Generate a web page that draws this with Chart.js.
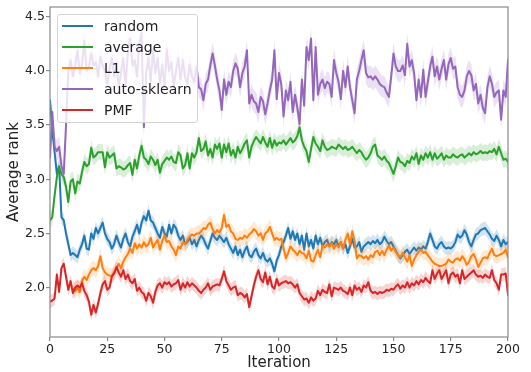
<!DOCTYPE html>
<html>
<head>
<meta charset="utf-8">
<script src="https://cdn.jsdelivr.net/npm/chart.js@4.4.0/dist/chart.umd.min.js"></script>
<style>
html,body{margin:0;padding:0;background:#fff;}
#wrap{position:relative;width:531px;height:372px;}
#legend{position:absolute;left:57px;top:14px;width:141px;height:109px;box-sizing:border-box;border:1px solid #d4d4d4;border-radius:3px;background:rgba(255,255,255,0.8);font-family:"DejaVu Sans";font-size:14px;color:#222;}
.row{position:absolute;left:0;width:139px;height:20px;}
.sw{position:absolute;left:4px;top:9px;width:31px;height:2px;}
.lbl{position:absolute;left:46px;top:0;white-space:nowrap;line-height:20px;}
</style>
</head>
<body>
<div id="wrap">
<canvas id="c" width="531" height="372"></canvas>
<div id="legend"></div>
</div>
<script>
const iterations = Array.from({length: 201}, (_, i) => i);
const xTicks = [0, 25, 50, 75, 100, 125, 150, 175, 200];
const yTicks = [2.0, 2.5, 3.0, 3.5, 4.0, 4.5];
const seriesNames = ['random', 'average', 'L1', 'auto-sklearn', 'PMF'];

const randomRank = [
3.73,3.45,3.25,3.05,3.12,2.65,2.62,2.50,2.40,2.30,
2.32,2.30,2.28,2.35,2.40,2.48,2.36,2.35,2.50,2.45,
2.55,2.50,2.55,2.60,2.50,2.45,2.42,2.36,2.40,2.48,
2.42,2.37,2.45,2.50,2.42,2.38,2.47,2.52,2.58,2.50,
2.60,2.66,2.62,2.71,2.62,2.60,2.55,2.50,2.46,2.56,
2.50,2.47,2.58,2.50,2.58,2.55,2.48,2.44,2.48,2.40,
2.42,2.46,2.40,2.44,2.38,2.44,2.48,2.45,2.40,2.36,
2.43,2.50,2.46,2.44,2.48,2.45,2.42,2.46,2.40,2.36,
2.32,2.38,2.30,2.35,2.28,2.34,2.38,2.30,2.28,2.33,
2.36,2.30,2.27,2.32,2.26,2.24,2.27,2.22,2.15,2.25,
2.30,2.38,2.42,2.48,2.55,2.45,2.52,2.44,2.50,2.40,
2.48,2.35,2.50,2.38,2.44,2.36,2.48,2.40,2.46,2.38,
2.42,2.44,2.38,2.42,2.40,2.44,2.38,2.42,2.36,2.40,
2.32,2.38,2.45,2.37,2.38,2.42,2.33,2.38,2.40,2.42,
2.40,2.43,2.41,2.44,2.40,2.42,2.47,2.43,2.40,2.42,
2.38,2.34,2.30,2.27,2.30,2.33,2.35,2.31,2.34,2.37,
2.34,2.37,2.35,2.38,2.36,2.42,2.50,2.44,2.38,2.36,
2.40,2.42,2.38,2.36,2.37,2.36,2.38,2.42,2.49,2.46,
2.48,2.53,2.49,2.42,2.38,2.44,2.49,2.50,2.53,2.54,
2.55,2.52,2.49,2.45,2.43,2.48,2.44,2.38,2.44,2.40,
2.42];

const averageRank = [
2.62,2.65,2.85,3.02,3.11,3.05,3.02,2.93,2.79,2.98,
3.00,2.87,2.98,2.96,3.07,3.16,3.12,3.14,3.29,3.20,
3.22,3.25,3.25,3.25,3.11,3.25,3.20,3.22,3.24,3.10,
3.12,3.11,3.09,3.10,3.13,3.15,3.04,3.18,3.10,3.22,
3.31,3.20,3.18,3.14,3.21,3.18,3.13,3.18,3.06,3.14,
3.17,3.20,3.18,3.21,3.16,3.15,3.25,3.22,3.10,3.13,
3.24,3.10,3.24,3.20,3.25,3.38,3.26,3.28,3.35,3.22,
3.28,3.20,3.32,3.28,3.33,3.20,3.32,3.25,3.33,3.22,
3.27,3.20,3.30,3.24,3.28,3.33,3.36,3.20,3.30,3.35,
3.39,3.36,3.33,3.39,3.34,3.30,3.38,3.29,3.36,3.31,
3.34,3.33,3.36,3.32,3.35,3.38,3.34,3.36,3.40,3.48,
3.36,3.30,3.26,3.16,3.28,3.39,3.33,3.30,3.26,3.36,
3.30,3.27,3.28,3.30,3.29,3.28,3.32,3.30,3.28,3.30,
3.27,3.28,3.30,3.27,3.24,3.27,3.25,3.21,3.18,3.20,
3.24,3.30,3.32,3.22,3.20,3.18,3.21,3.17,3.15,3.10,
3.05,3.12,3.20,3.16,3.15,3.12,3.17,3.15,3.21,3.18,
3.24,3.14,3.22,3.18,3.24,3.20,3.25,3.18,3.24,3.19,
3.21,3.24,3.18,3.22,3.20,3.20,3.23,3.21,3.20,3.22,
3.23,3.20,3.22,3.24,3.22,3.25,3.23,3.24,3.26,3.24,
3.25,3.24,3.26,3.25,3.28,3.23,3.30,3.24,3.18,3.19,
3.16];

const l1Rank = [
null,null,null,null,null,null,null,null,null,null,
1.99,1.97,2.00,1.96,2.06,2.10,2.07,2.12,2.16,2.18,
2.16,2.20,2.29,2.18,2.14,2.12,2.11,2.11,2.14,2.18,
2.22,2.18,2.24,2.28,2.31,2.36,2.32,2.41,2.36,2.40,
2.37,2.42,2.38,2.40,2.46,2.37,2.41,2.44,2.35,2.43,
2.48,2.42,2.43,2.38,2.35,2.30,2.38,2.36,2.42,2.40,
2.44,2.47,2.49,2.48,2.50,2.50,2.52,2.55,2.54,2.58,
2.60,2.54,2.50,2.53,2.51,2.55,2.67,2.56,2.58,2.52,
2.50,2.45,2.44,2.46,2.45,2.48,2.46,2.49,2.51,2.54,
2.52,2.48,2.50,2.44,2.50,2.52,2.56,2.50,2.44,2.46,
2.44,2.45,2.36,2.27,2.32,2.38,2.35,2.33,2.30,2.34,
2.32,2.31,2.27,2.34,2.25,2.24,2.30,2.35,2.28,2.39,
2.37,2.40,2.38,2.41,2.36,2.40,2.37,2.42,2.36,2.44,
2.50,2.40,2.52,2.43,2.27,2.30,2.29,2.27,2.29,2.26,
2.30,2.28,2.33,2.34,2.30,2.34,2.30,2.35,2.39,2.34,
2.37,2.33,2.30,2.28,2.32,2.28,2.24,2.30,2.20,2.26,
2.30,2.33,2.35,2.32,2.33,2.30,2.27,2.24,2.22,2.21,
2.20,2.20,2.21,2.22,2.26,2.24,2.23,2.26,2.27,2.25,
2.29,2.26,2.21,2.24,2.29,2.31,2.26,2.19,2.23,2.27,
2.28,2.27,2.32,2.36,2.30,2.29,2.30,2.31,2.32,2.35,
2.28];

const autoSklearnRank = [
3.20,3.62,3.30,3.26,3.30,3.12,3.05,3.50,4.00,4.10,
3.95,4.05,4.19,3.98,4.06,4.28,4.00,4.04,4.16,4.05,
4.08,3.95,4.13,4.05,4.00,3.88,4.02,4.12,3.95,4.06,
3.85,3.98,4.12,3.86,4.18,4.30,4.05,4.10,3.95,4.25,
4.35,3.48,3.98,4.12,3.90,4.20,3.98,4.12,3.88,4.06,
3.85,4.20,4.00,4.08,3.85,4.00,4.12,3.92,4.10,3.94,
3.88,4.06,3.95,3.90,4.04,3.85,3.83,3.73,3.88,3.92,
4.05,4.16,4.05,3.92,3.82,3.64,3.92,3.78,3.90,3.85,
4.00,4.07,4.02,3.85,3.98,4.04,4.19,3.70,3.78,3.72,
3.70,3.62,3.76,3.72,3.60,3.70,3.82,3.92,4.19,3.74,
3.98,3.88,3.58,3.82,3.73,3.90,3.62,3.78,3.66,3.51,
3.92,3.68,4.22,4.10,4.30,3.73,4.22,3.78,3.88,3.92,
3.84,3.90,3.88,3.76,4.10,3.98,3.90,3.74,4.00,3.85,
4.04,3.85,3.73,3.61,3.92,4.00,4.10,4.19,3.98,3.94,
3.95,3.92,3.95,3.92,3.88,3.86,3.85,3.80,3.76,3.95,
4.16,4.04,4.00,4.00,4.05,3.96,4.25,4.04,4.10,3.98,
3.73,3.92,3.76,4.01,3.76,3.90,4.04,4.13,3.95,4.04,
3.92,4.02,4.10,3.92,4.06,4.12,4.02,4.04,3.85,3.78,
3.76,3.82,3.95,4.00,3.96,3.82,3.88,3.70,3.78,3.66,
3.61,3.85,3.95,3.88,3.76,3.80,3.82,3.55,3.82,3.76,
4.10];

const pmfRank = [
1.87,1.88,1.90,2.12,1.96,2.18,2.22,2.10,1.98,2.06,
1.95,2.00,2.02,2.00,2.04,1.97,1.93,1.87,1.75,1.84,
1.77,1.85,1.95,2.03,2.06,1.98,2.00,2.10,2.13,2.19,
2.14,2.10,2.16,2.08,2.12,2.06,2.04,2.08,1.97,2.00,
1.96,1.94,1.88,1.95,1.92,1.86,1.96,2.02,2.04,2.00,
2.05,2.03,2.05,2.01,2.03,2.04,2.07,1.98,2.04,2.00,
2.05,2.01,2.04,2.02,2.00,1.97,1.95,1.98,2.00,2.04,
1.98,2.01,2.02,2.03,2.02,2.08,2.15,2.06,2.02,1.98,
2.00,2.01,1.93,1.95,1.94,1.91,1.94,1.82,1.92,2.02,
2.10,2.16,2.08,2.05,2.14,2.03,2.10,2.01,1.99,2.08,
2.02,2.04,2.05,2.06,2.04,2.05,2.03,2.00,2.03,1.95,
1.92,1.89,1.90,1.86,1.91,1.88,1.90,1.97,1.93,1.98,
1.96,1.95,2.03,1.92,2.00,1.99,1.98,2.00,1.97,1.96,
1.94,2.00,1.93,2.02,1.98,2.00,1.96,2.02,2.00,2.05,
1.97,1.95,1.96,1.94,1.96,1.95,1.96,1.98,1.97,1.99,
1.98,2.01,2.03,1.99,2.02,2.00,2.05,2.00,2.04,2.02,
2.06,2.03,2.07,2.05,2.09,2.06,2.04,2.16,2.08,2.13,
2.16,2.08,2.12,2.16,2.04,2.12,2.14,2.10,2.12,2.04,
2.16,2.08,2.10,2.12,2.14,2.16,2.12,2.10,2.11,2.09,
2.12,2.10,2.09,2.16,2.07,2.04,1.98,2.12,2.12,2.13,
1.93];

// half-width of the shaded band around each series
const bandHalfWidth = [0.06, 0.075, 0.07, 0.10, 0.06];

const seriesValues = [randomRank, averageRank, l1Rank, autoSklearnRank, pmfRank];
const colors = ['#1f77b4', '#2ca02c', '#ff7f0e', '#9467bd', '#d62728'];
const bandColors = ['rgba(31,119,180,0.2)', 'rgba(44,160,44,0.18)', 'rgba(255,127,14,0.18)', 'rgba(148,103,189,0.2)', 'rgba(214,39,40,0.2)'];

const datasets = [];
seriesValues.forEach((vals, i) => {
  const z = (seriesValues.length - 1 - i) * 10;
  const hw = bandHalfWidth[i];
  const upperIndex = datasets.length;
  datasets.push({
    data: iterations.map((x, k) => ({x, y: vals[k] == null ? null : vals[k] + hw})),
    borderWidth: 0, borderColor: 'rgba(0,0,0,0)', pointRadius: 0, fill: false, order: z + 2
  });
  datasets.push({
    data: iterations.map((x, k) => ({x, y: vals[k] == null ? null : vals[k] - hw})),
    borderWidth: 0, borderColor: 'rgba(0,0,0,0)', pointRadius: 0, fill: upperIndex,
    backgroundColor: bandColors[i], order: z + 1
  });
  datasets.push({
    label: seriesNames[i],
    data: iterations.map((x, k) => ({x, y: vals[k]})),
    borderColor: colors[i], borderWidth: 2, pointRadius: 0, fill: false,
    order: z, borderJoinStyle: 'round', borderCapStyle: 'round'
  });
});

const framePlugin = {
  id: 'frame',
  afterDraw(chart) {
    const {ctx, chartArea: a} = chart;
    ctx.save();
    ctx.strokeStyle = '#8a8a8a';
    ctx.lineWidth = 1.2;
    ctx.strokeRect(a.left, a.top, a.right - a.left, a.bottom - a.top);
    ctx.restore();
  }
};

const tickFont = {family: 'DejaVu Sans', size: 12.5};
const titleFont = {family: 'DejaVu Sans', size: 15};

new Chart(document.getElementById('c'), {
  type: 'line',
  data: {datasets},
  plugins: [framePlugin],
  options: {
    responsive: false,
    animation: false,
    devicePixelRatio: 1,
    layout: {padding: {left: 0, right: 23, top: 7, bottom: 0}},
    plugins: {legend: {display: false}, tooltip: {enabled: false}},
    elements: {line: {tension: 0}},
    scales: {
      x: {
        type: 'linear', min: 0, max: 200,
        afterBuildTicks: s => { s.ticks = xTicks.map(v => ({value: v})); },
        afterFit: s => { s.height = 35; s.paddingLeft = 0; s.paddingRight = 0; },
        ticks: {font: tickFont, color: '#222', padding: 1, maxRotation: 0, autoSkip: false},
        grid: {drawOnChartArea: false, drawTicks: true, tickLength: 4, color: '#8a8a8a', lineWidth: 1.2},
        border: {display: false},
        title: {display: true, text: 'Iteration', font: titleFont, color: '#222', padding: {top: 0, bottom: 0}}
      },
      y: {
        type: 'linear', min: 1.544, max: 4.59,
        afterBuildTicks: s => { s.ticks = yTicks.map(v => ({value: v})); },
        afterFit: s => { s.width = 50; s.paddingTop = 0; s.paddingBottom = 0; },
        ticks: {font: tickFont, color: '#222', padding: 1, callback: v => Number(v).toFixed(1)},
        grid: {drawOnChartArea: false, drawTicks: true, tickLength: 4, color: '#8a8a8a', lineWidth: 1.2},
        border: {display: false},
        title: {display: true, text: 'Average rank', font: titleFont, color: '#222', padding: {top: 5, bottom: 0}}
      }
    }
  }
});

// legend overlay inside the plot (upper left)
const legend = document.getElementById('legend');
seriesNames.forEach((name, i) => {
  const row = document.createElement('div');
  row.className = 'row';
  row.style.top = (1 + 21 * i) + 'px';
  const sw = document.createElement('div');
  sw.className = 'sw';
  sw.style.background = colors[i];
  const lbl = document.createElement('div');
  lbl.className = 'lbl';
  lbl.textContent = name;
  row.appendChild(sw);
  row.appendChild(lbl);
  legend.appendChild(row);
});
</script>
</body>
</html>
